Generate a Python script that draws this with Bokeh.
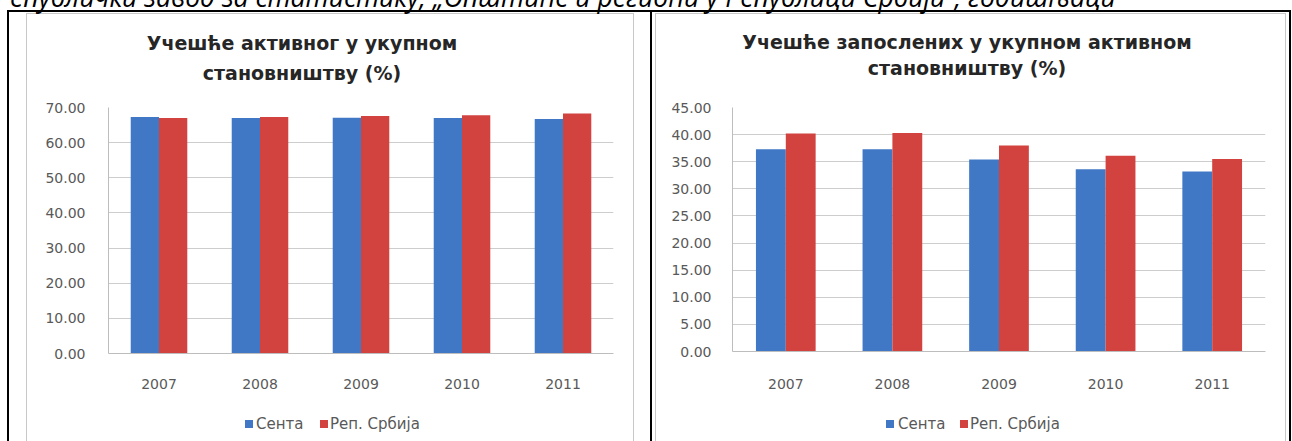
from bokeh.plotting import figure
from bokeh.models import (FactorRange, Range1d, ColumnDataSource, FixedTicker,
                          NumeralTickFormatter, Div)
from bokeh.layouts import row, column
from bokeh.transform import dodge
from bokeh.embed import file_html
from bokeh.resources import INLINE

# ---------------- data ----------------
years = ["2007", "2008", "2009", "2010", "2011"]
series_names = ["Сента", "Реп. Србија"]

active_senta = [67.3, 67.0, 67.1, 67.0, 66.7]
active_srbija = [67.0, 67.3, 67.6, 67.8, 68.3]

employed_senta = [37.3, 37.3, 35.4, 33.6, 33.2]
employed_srbija = [40.2, 40.3, 38.0, 36.1, 35.5]

title_active = ["Учешће активног у укупном", "становништву (%)"]
title_employed = ["Учешће запослених у укупном активном", "становништву (%)"]
source_note = "Републички завод за статистику, „Општине и региони у Републици Србији“, годишњаци"

# ---------------- style ----------------
HEAD = 95          # title strip height
FOOT = 31          # legend strip height
FIG_H = 441 - HEAD - FOOT
BLUE = "#4178C6"
RED = "#D2423F"
GRID = "#CDCDCD"
AXIS = "#BDBDBD"
TXT = "#595959"
TITLE_C = "#262626"
FONT = "DejaVu Sans"
FRAME_C = "#C8C8C8"


def rects_css(rects):
    """CSS background made of thin solid rectangles (x, y, w, h, colour)."""
    imgs, pos, size = [], [], []
    for x, y, w, h, c in rects:
        imgs.append(f"linear-gradient({c},{c})")
        pos.append(f"{x}px {y}px")
        size.append(f"{w}px {h}px")
    return {"background-image": ",".join(imgs),
            "background-position": ",".join(pos),
            "background-size": ",".join(size),
            "background-repeat": "no-repeat"}


def head_div(width, note_left, title_lines, title_cx, title_top, line_h):
    html = (
        f'<div style="position:relative;width:{width}px;height:{HEAD}px;overflow:hidden;">'
        f'<div style="position:absolute;left:{note_left}px;top:-15px;white-space:nowrap;'
        "font-family:'Open Sans';font-style:italic;font-size:26.5px;line-height:24px;color:#000;\">"
        + source_note + '</div>'
        f'<div style="position:absolute;left:{title_cx - 320}px;top:{title_top}px;width:640px;'
        f"text-align:center;font-family:'{FONT}';font-weight:bold;font-size:19px;"
        f'line-height:{line_h}px;color:{TITLE_C};white-space:nowrap;">'
        + title_lines[0] + '<br>' + title_lines[1] + '</div></div>'
    )
    return Div(text=html, width=width, height=HEAD, margin=0, styles={"overflow": "hidden"})


def legend_div(width, blue_x, blue_tx, red_x, red_tx):
    def item(sq_x, tx_x, color, label):
        return (f'<div style="position:absolute;left:{sq_x}px;top:10px;width:8px;height:8px;'
                f'background:{color};"></div>'
                f'<div style="position:absolute;left:{tx_x}px;top:5px;white-space:nowrap;'
                f"font-family:'{FONT}';font-size:15px;line-height:18px;color:{TXT};\">{label}</div>")
    html = (f'<div style="position:relative;width:{width}px;height:{FOOT}px;overflow:hidden;">'
            + item(blue_x, blue_tx, BLUE, series_names[0])
            + item(red_x, red_tx, RED, series_names[1]) + '</div>')
    return Div(text=html, width=width, height=FOOT, margin=0, styles={"overflow": "hidden"})


def make_chart(width, fl, fr, ft, fb, ymax, ystep, s1, s2, ystand, xstand):
    p = figure(width=width, height=FIG_H, x_range=FactorRange(*years),
               y_range=Range1d(0, ymax), output_backend="svg", toolbar_location=None,
               min_border_left=fl, min_border_right=width - fr,
               min_border_top=ft, min_border_bottom=FIG_H - fb, margin=0)
    p.outline_line_color = None
    p.background_fill_color = "white"
    p.border_fill_color = None
    src = ColumnDataSource(dict(year=years, a=s1, b=s2))
    p.vbar(x=dodge("year", -0.14, range=p.x_range), top="a", width=0.28,
           source=src, fill_color=BLUE, line_color=None)
    p.vbar(x=dodge("year", 0.14, range=p.x_range), top="b", width=0.28,
           source=src, fill_color=RED, line_color=None)
    p.xgrid.grid_line_color = None
    p.ygrid.grid_line_color = GRID
    ticks = list(range(0, ymax + 1, ystep))
    p.ygrid.ticker = FixedTicker(ticks=ticks)
    ya = p.yaxis[0]
    ya.ticker = FixedTicker(ticks=ticks)
    ya.formatter = NumeralTickFormatter(format="0.00")
    ya.major_tick_line_color = None
    ya.minor_tick_line_color = None
    ya.axis_line_color = AXIS
    ya.major_label_standoff = ystand
    ya.major_label_text_font = FONT
    ya.major_label_text_font_size = "14px"
    ya.major_label_text_color = TXT
    xa = p.xaxis[0]
    xa.major_tick_line_color = None
    xa.minor_tick_line_color = None
    xa.axis_line_color = AXIS
    xa.major_label_standoff = xstand
    xa.major_label_text_font = FONT
    xa.major_label_text_font_size = "14px"
    xa.major_label_text_color = TXT
    return p


# ---------------- left cell (page x 0..650) ----------------
WL = 650
p1 = make_chart(WL, 108, 613, 107 - HEAD, 353 - HEAD, 70, 10, active_senta, active_srbija, 17, 19)
h1 = head_div(WL, -5, title_active, 302, 28, 30)
l1 = legend_div(WL, 245, 256, 320, 330)
left_deco = [(7, 10, 643, 2, "#000"),              # table top rule
             (7, 10, 2, 441, "#000"),              # table left rule
             (26, 13, 1, 441, FRAME_C),            # picture frame
             (26, 13, 608, 1, FRAME_C),
             (633, 13, 1, 441, FRAME_C)]
c1 = column(h1, p1, l1, spacing=0, styles=rects_css(left_deco))

# ---------------- right cell (page x 650..1292) ----------------
WR = 1292 - WL
p2 = make_chart(WR, 82, 615, 107 - HEAD, 351 - HEAD, 45, 5, employed_senta, employed_srbija, 15, 21)
h2 = head_div(WR, -5 - WL, title_employed, 317, 29, 26)
l2 = legend_div(WR, 236, 248, 310, 320)
right_deco = [(0, 10, 641, 2, "#000"),             # table top rule
              (0, 10, 2, 441, "#000"),             # table middle rule
              (639, 10, 2, 441, "#000"),           # table right rule
              (5, 13, 1, 441, FRAME_C),            # picture frame
              (5, 13, 631, 1, FRAME_C),
              (635, 13, 1, 441, FRAME_C)]
c2 = column(h2, p2, l2, spacing=0, styles=rects_css(right_deco))

layout = row(c1, c2, spacing=0)
open("out.html", "w").write(file_html(layout, INLINE))
